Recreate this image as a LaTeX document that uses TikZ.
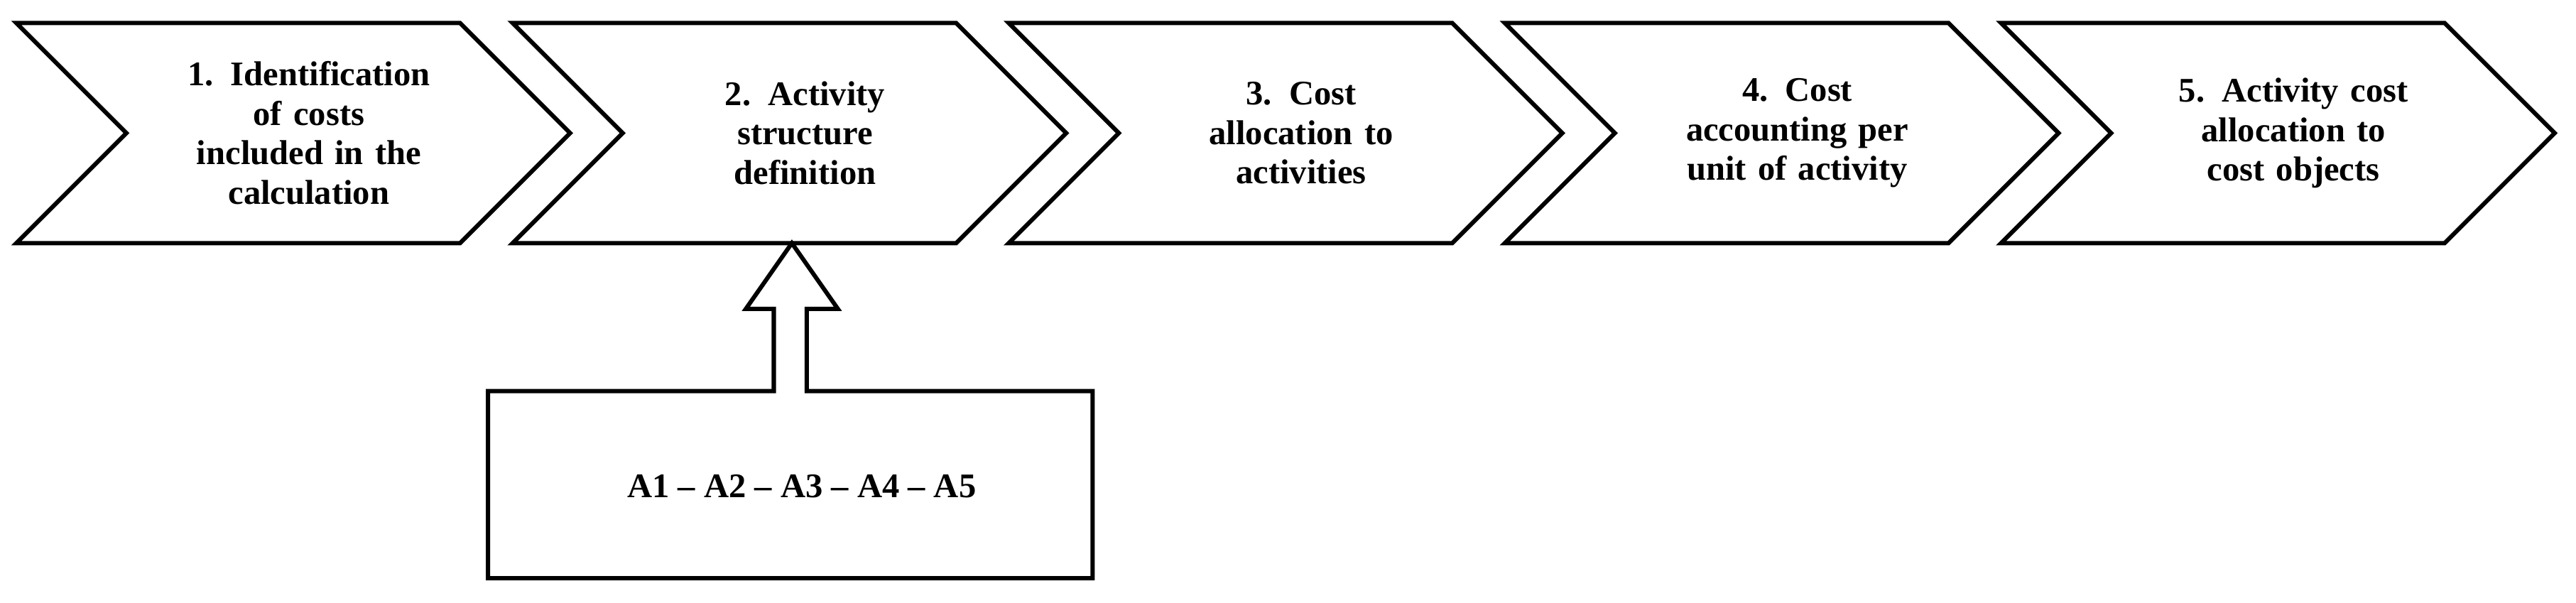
\documentclass[tikz,border=0pt]{standalone}
\usepackage{fontspec}
\setmainfont{Liberation Serif}
\begin{document}
\begin{tikzpicture}[x=1pt,y=-1pt,line join=miter,
  chev/.style={draw=black,line width=2.6pt,fill=white},
  lbl/.style={font=\fontsize{21}{24}\selectfont\bfseries,align=center,text width=190pt}]
\useasboundingbox (0,0) rectangle (1568,367);
\foreach \i/\t in {1/{1. Identification\\of costs\\included in the\\calculation},
  2/{2. Activity\\structure\\definition},
  3/{3. Cost\\allocation to\\activities},
  4/{4. Cost\\accounting per\\unit of activity},
  5/{5. Activity cost\\allocation to\\cost objects}}{
  \pgfmathsetmacro{\L}{10+(\i-1)*302}
  \draw[chev] (\L,14) -- (\L+270,14) -- (\L+337,81) -- (\L+270,148) -- (\L,148) -- (\L+67,81) -- cycle;
  \node[lbl] (c\i) at (\L+178,81) {\t};
}
\coordinate (tip) at (482,148);
\draw[chev] (tip) -- (510,188) -- (491,188) -- (491,238) -- (665,238) -- (665,352) -- (297,352) -- (297,238) -- (471,238) -- (471,188) -- (454,188) -- cycle;
\node[font=\fontsize{21}{24}\selectfont\bfseries] (box) at (488,296) {A1 – A2 – A3 – A4 – A5};
\end{tikzpicture}
\end{document}
